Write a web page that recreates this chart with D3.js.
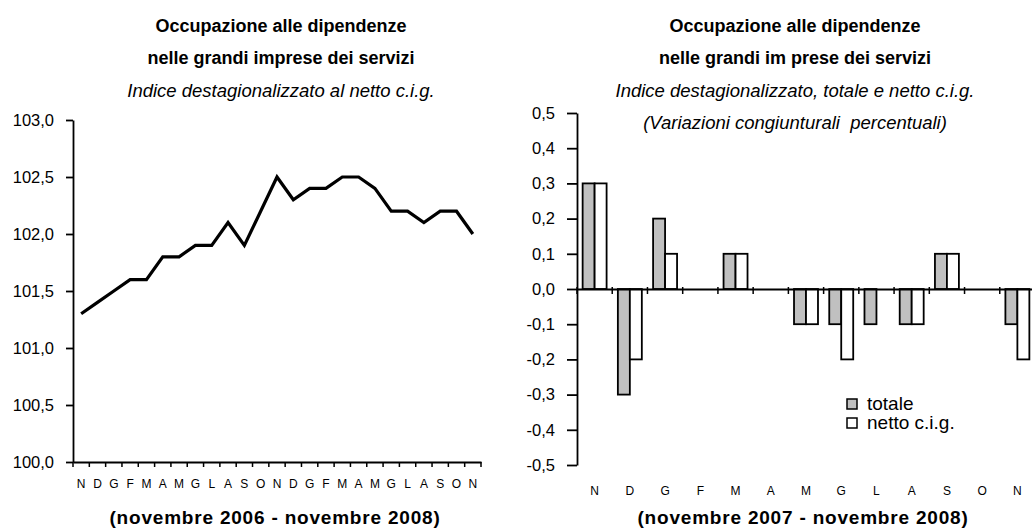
<!DOCTYPE html>
<html><head><meta charset="utf-8">
<script src="https://cdn.jsdelivr.net/npm/d3@7"></script>
<style>
html,body{margin:0;padding:0;background:#fff;}
svg{display:block;font-family:"Liberation Sans",Arial,sans-serif;}
</style></head>
<body><svg id="c" width="1032" height="529"></svg>
<script>
// ---- data: left chart ----
const leftMonths = ["N","D","G","F","M","A","M","G","L","A","S","O","N","D","G","F","M","A","M","G","L","A","S","O","N"];
const leftIndex = [101.3,101.4,101.5,101.6,101.6,101.8,101.8,101.9,101.9,102.1,101.9,102.2,102.5,102.3,102.4,102.4,102.5,102.5,102.4,102.2,102.2,102.1,102.2,102.2,102.0];
const leftTicks = [100.0,100.5,101.0,101.5,102.0,102.5,103.0];
// ---- data: right chart ----
const rightMonths = ["N","D","G","F","M","A","M","G","L","A","S","O","N"];
const totale = [0.3,-0.3,0.2,0,0.1,0,-0.1,-0.1,-0.1,-0.1,0.1,0,-0.1];
const netto  = [0.3,-0.2,0.1,0,0.1,0,-0.1,-0.2,0,-0.1,0.1,0,-0.2];
const rightTicks = [-0.5,-0.4,-0.3,-0.2,-0.1,0,0.1,0.2,0.3,0.4,0.5];
const seriesNames = ["totale","netto c.i.g."];

const FONT = "Liberation Sans, Arial, sans-serif";
const svg = d3.select("#c");
const fmt1 = d => d3.format(".1f")(d).replace(".", ",").replace("\u2212","-");

function styleAxis(a){
  a.select(".domain").attr("stroke","#000").attr("stroke-width",1.8);
  a.selectAll(".tick line").attr("stroke","#000").attr("stroke-width",1.8);
  a.selectAll(".tick text").attr("fill","#000").attr("font-family",FONT);
}
function titleBlock(g, cx, lines){
  const t = g.append("g").attr("text-anchor","middle");
  lines.forEach(l => {
    t.append("text").attr("x",cx).attr("y",l.y).attr("font-size",l.bold ? 18 : 18.5)
      .attr("font-weight", l.bold ? "bold" : "normal")
      .attr("font-style", l.bold ? "normal" : "italic")
      .attr("xml:space","preserve").text(l.t);
  });
}

// ---------- LEFT ----------
const L = {x0:73, x1:481, y0:462, y1:120};
const xL = d3.scaleBand().domain(d3.range(leftMonths.length)).range([L.x0, L.x1]);
const yL = d3.scaleLinear().domain([100,103]).range([L.y0, L.y1]);
const gL = svg.append("g");
titleBlock(gL, 281, [
  {t:"Occupazione alle dipendenze", y:32, bold:true},
  {t:"nelle grandi imprese dei servizi", y:64, bold:true},
  {t:"Indice destagionalizzato al netto c.i.g.", y:97, bold:false}
]);

const yAxL = gL.append("g").attr("transform",`translate(${L.x0},0)`)
  .call(d3.axisLeft(yL).tickValues(leftTicks).tickFormat(fmt1).tickSize(7).tickPadding(12).tickSizeOuter(0));
styleAxis(yAxL);
yAxL.selectAll(".tick text").attr("font-size",16.5);

const xAxL = gL.append("g").attr("transform",`translate(0,${L.y0})`)
  .call(d3.axisBottom(xL).tickFormat(i => leftMonths[i]).tickSize(0).tickPadding(17));
styleAxis(xAxL);
xAxL.selectAll(".tick text").attr("font-size",12);
xAxL.selectAll(".bnd").data(d3.range(leftMonths.length+1)).enter().append("line")
  .attr("x1", i => L.x0 + i*xL.step()).attr("x2", i => L.x0 + i*xL.step())
  .attr("y1",0).attr("y2",5).attr("stroke","#000").attr("stroke-width",1.5);

gL.append("path").datum(leftIndex)
  .attr("fill","none").attr("stroke","#000").attr("stroke-width",3.2).attr("stroke-linejoin","miter")
  .attr("d", d3.line().x((d,i)=>xL(i)+xL.bandwidth()/2).y(d=>yL(d)));

gL.append("text").attr("x",275).attr("y",524).attr("text-anchor","middle").attr("font-weight","bold")
  .attr("font-size",19).attr("letter-spacing",0.8).text("(novembre 2006 - novembre 2008)");

// ---------- RIGHT ----------
const R = {x0:577, x1:1035, y0:465, y1:113};
const xR = d3.scaleBand().domain(d3.range(rightMonths.length)).range([R.x0, R.x1]);
const yR = d3.scaleLinear().domain([-0.5,0.5]).range([R.y0, R.y1]);
const gR = svg.append("g");
titleBlock(gR, 795, [
  {t:"Occupazione alle dipendenze", y:32, bold:true},
  {t:"nelle grandi im prese dei servizi", y:64, bold:true},
  {t:"Indice destagionalizzato, totale e netto c.i.g.", y:97, bold:false},
  {t:"(Variazioni congiunturali  percentuali)", y:129, bold:false}
]);

const yAxR = gR.append("g").attr("transform",`translate(${R.x0},0)`)
  .call(d3.axisLeft(yR).tickValues(rightTicks).tickFormat(fmt1).tickSize(10).tickPadding(12).tickSizeOuter(0));
styleAxis(yAxR);
yAxR.selectAll(".tick text").attr("font-size",16.5);

const inner = d3.scaleBand().domain([0,1]).range([0, xR.bandwidth()]).paddingInner(0).paddingOuter(0.47);
const bars = gR.append("g");
rightMonths.forEach((m,i) => {
  [totale[i], netto[i]].forEach((v,k) => {
    if (v === 0) return;
    bars.append("rect")
      .attr("x", xR(i) + inner(k))
      .attr("width", inner.bandwidth())
      .attr("y", yR(Math.max(0,v)))
      .attr("height", Math.abs(yR(v)-yR(0)))
      .attr("fill", k===0 ? "#c0c0c0" : "#fff")
      .attr("stroke","#000").attr("stroke-width",1.8);
  });
});

const xAxR = gR.append("g").attr("transform",`translate(0,${yR(0)})`)
  .call(d3.axisBottom(xR).tickFormat(()=>"").tickSize(0));
styleAxis(xAxR);
xAxR.selectAll(".bnd").data(d3.range(rightMonths.length)).enter().append("line")
  .attr("x1", i => R.x0 + i*xR.step()).attr("x2", i => R.x0 + i*xR.step())
  .attr("y1",-2).attr("y2",5).attr("stroke","#000").attr("stroke-width",1.5);

const labR = gR.append("g").attr("transform",`translate(0,${R.y0})`)
  .call(d3.axisBottom(xR).tickFormat(i => rightMonths[i]).tickSize(0).tickPadding(21));
labR.select(".domain").remove();
labR.selectAll("text").attr("font-size",12).attr("fill","#000").attr("font-family",FONT);

gR.append("text").attr("x",803).attr("y",524).attr("text-anchor","middle").attr("font-weight","bold")
  .attr("font-size",19).attr("letter-spacing",0.8).text("(novembre 2007 - novembre 2008)");

// legend
const leg = gR.append("g").attr("transform","translate(847,399)");
seriesNames.forEach((s,k) => {
  leg.append("rect").attr("x",0).attr("y",k*19).attr("width",10).attr("height",10)
    .attr("fill", k===0 ? "#c0c0c0" : "#fff").attr("stroke","#000").attr("stroke-width",1.5);
  leg.append("text").attr("x",20).attr("y",k*19+11).attr("font-size",19).attr("font-family",FONT).text(s);
});
</script></body></html>
